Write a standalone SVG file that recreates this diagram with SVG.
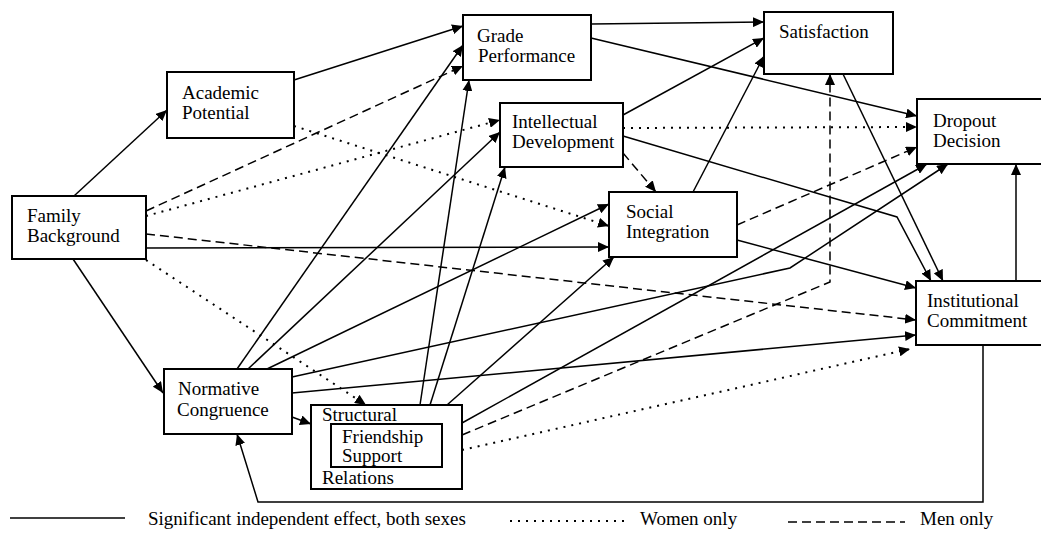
<svg xmlns="http://www.w3.org/2000/svg" width="1041" height="554" viewBox="0 0 1041 554">
<style>
.box{fill:#fff;stroke:#000;stroke-width:2}
.t{font-family:"Liberation Serif","Times New Roman",serif;font-size:19px;fill:#000}
.s,.d,.o{fill:none;stroke:#000;stroke-width:1.5}
.d{stroke-dasharray:9 5}
.o{stroke-width:2;stroke-dasharray:2 6}
.a{marker-end:url(#ah)}
</style>
<defs>
<marker id="ah" markerUnits="userSpaceOnUse" markerWidth="12" markerHeight="10" refX="11" refY="5" orient="auto">
<path d="M0,0 L11,5 L0,10 z" fill="#000"/>
</marker>
</defs>
<rect width="1041" height="554" fill="#fff"/>
<g id="connectors">
<path class="s a" d="M74,196 L167,110"/>
<path class="s a" d="M73,259 L163,393"/>
<path class="s a" d="M146,248 L609,247"/>
<path class="s a" d="M294,80 L463,26"/>
<path class="s a" d="M591,24 L764,22"/>
<path class="s a" d="M591,38 L917,116"/>
<path class="s a" d="M623,115 L764,38"/>
<path class="s a" d="M623,136 L897,217 L931,281"/>
<path class="s a" d="M693,192 L764,56"/>
<path class="s a" d="M737,240 L916,288"/>
<path class="s a" d="M843,74 L943,281"/>
<path class="s a" d="M237,369 L463,45"/>
<path class="s a" d="M248,369 L500,132"/>
<path class="s a" d="M267,369 L609,204"/>
<path class="s a" d="M292,377 L790,268 L948,164"/>
<path class="s a" d="M292,393 L916,335"/>
<path class="s a" d="M292,417 L311,424"/>
<path class="s a" d="M420,405 L469,80"/>
<path class="s a" d="M430,405 L505,167"/>
<path class="s a" d="M447,405 L614,257"/>
<path class="s a" d="M462,423 L927,164"/>
<path class="s a" d="M1016,281 L1016,164"/>
<path class="s a" d="M983,345 L983,502 L258,502 L237,434"/>
<path class="d a" d="M146,211 L463,66"/>
<path class="d a" d="M146,234 L916,320"/>
<path class="d a" d="M623,153 L656,192"/>
<path class="d a" d="M737,225 L917,147"/>
<path class="d a" d="M462,435 L830,282 L830,74"/>
<path class="o a" d="M146,216 L500,120"/>
<path class="o a" d="M146,260 L366,405"/>
<path class="o a" d="M294,126 L609,226"/>
<path class="o a" d="M623,128 L917,127"/>
<path class="o a" d="M462,450 L910,349"/>
</g>
<g id="family-background">
<rect class="box" x="12" y="196" width="134" height="63"/>
<text class="t" x="27" y="222">Family</text>
<text class="t" x="27" y="242">Background</text>
</g>
<g id="academic-potential">
<rect class="box" x="167" y="72" width="127" height="66"/>
<text class="t" x="182" y="99">Academic</text>
<text class="t" x="182" y="119">Potential</text>
</g>
<g id="grade-performance">
<rect class="box" x="463" y="15" width="128" height="65"/>
<text class="t" x="477" y="42">Grade</text>
<text class="t" x="478" y="62">Performance</text>
</g>
<g id="intellectual-development">
<rect class="box" x="500" y="103" width="123" height="64"/>
<text class="t" x="512" y="128">Intellectual</text>
<text class="t" x="512" y="148">Development</text>
</g>
<g id="social-integration">
<rect class="box" x="609" y="192" width="128" height="65"/>
<text class="t" x="626" y="218">Social</text>
<text class="t" x="626" y="238">Integration</text>
</g>
<g id="satisfaction">
<rect class="box" x="764" y="12" width="129" height="62"/>
<text class="t" x="779" y="38">Satisfaction</text>
</g>
<g id="dropout-decision">
<rect class="box" x="917" y="99" width="134" height="65"/>
<text class="t" x="933" y="127">Dropout</text>
<text class="t" x="933" y="147">Decision</text>
</g>
<g id="institutional-commitment">
<rect class="box" x="916" y="281" width="135" height="64"/>
<text class="t" x="927" y="307">Institutional</text>
<text class="t" x="927" y="327">Commitment</text>
</g>
<g id="normative-congruence">
<rect class="box" x="164" y="369" width="128" height="65"/>
<text class="t" x="178" y="395">Normative</text>
<text class="t" x="177" y="416">Congruence</text>
</g>
<g id="structural-relations">
<rect class="box" x="311" y="405" width="151" height="84"/>
<text class="t" x="322" y="421">Structural</text>
<rect class="box" x="331" y="424" width="111" height="43"/>
<text class="t" x="342" y="443">Friendship</text>
<text class="t" x="342" y="462">Support</text>
<text class="t" x="322" y="484">Relations</text>
</g>
<g id="legend">
<line class="s" x1="10" y1="518" x2="125" y2="518"/>
<text class="t" x="148" y="525">Significant independent effect, both sexes</text>
<line class="o" x1="510" y1="521" x2="627" y2="521"/>
<text class="t" x="640" y="525">Women only</text>
<line class="d" x1="788" y1="522" x2="905" y2="522"/>
<text class="t" x="920" y="525">Men only</text>
</g>
</svg>
